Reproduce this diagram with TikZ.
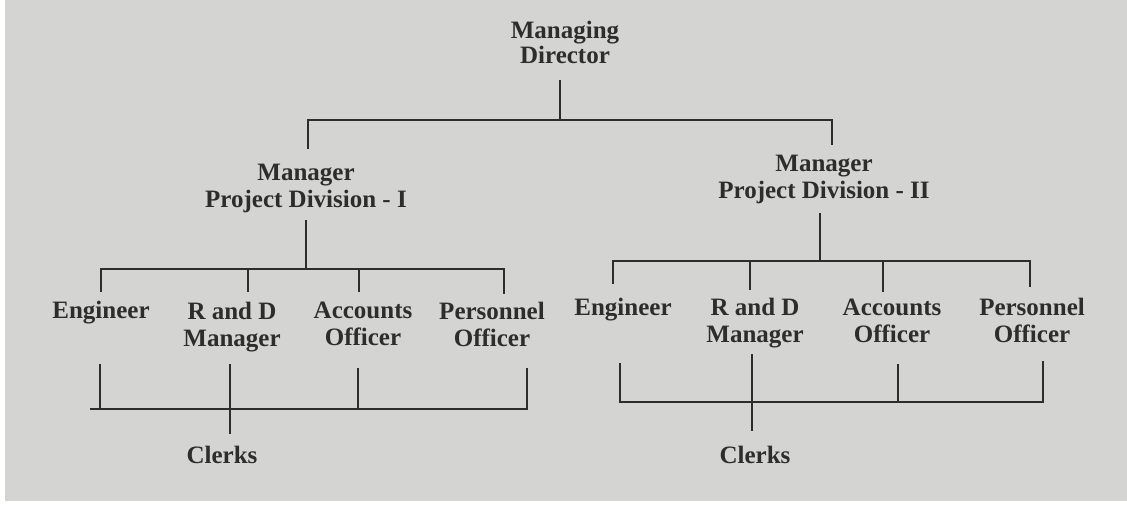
\documentclass[tikz,border=0pt]{standalone}
\usepackage{fontspec}
\setmainfont{Liberation Serif}
\usetikzlibrary{positioning}
\definecolor{paper}{RGB}{212,212,210}
\definecolor{ink}{RGB}{45,45,45}

\begin{document}
\begin{tikzpicture}[x=0.5pt, y=-0.5pt,
  post/.style={font=\fontsize{12.5}{13.5}\selectfont\bfseries, text=ink, align=center, inner sep=0pt},
  link/.style={draw=ink, line width=0.9pt}]
  \useasboundingbox (0,0) rectangle (1127,507);
  \fill[white] (0,0) rectangle (1127,507);
  \fill[paper] (5,0) rectangle (1127,501);

  % Top of the chart
  \node[post, font=\fontsize{12.5}{12.5}\selectfont\bfseries] (md) at (565,42) {Managing\\Director};
  \node[post] (div1) at (306,188) {Manager\\Project Division - I};
  \node[post] (div2) at (824,179) {Manager\\Project Division - II};

  % Staff of division I
  \node[post] (eng1) at (101,313) {Engineer};
  \node[post] (rnd1) at (232,327) {R and D\\Manager};
  \node[post] (acc1) at (363,324) {Accounts\\Officer};
  \node[post] (per1) at (492,324) {Personnel\\Officer};
  \node[post] (clk1) at (222,454.5) {Clerks};

  % Staff of division II
  \node[post] (eng2) at (623,309.5) {Engineer};
  \node[post] (rnd2) at (755,323) {R and D\\Manager};
  \node[post] (acc2) at (892,320.5) {Accounts\\Officer};
  \node[post] (per2) at (1032,320.5) {Personnel\\Officer};
  \node[post] (clk2) at (755,454.5) {Clerks};

  % Managing Director to the two divisions
  \coordinate (top-l) at (308,120);
  \coordinate (top-m) at (560,120);
  \coordinate (top-r) at (832,120);
  \draw[link, shorten <=8pt] (top-m |- md.south) -- (top-m);
  \draw[link, shorten <=7.25pt, shorten >=4.75pt] (top-l |- div1.north) -- (top-l) -- (top-r) -- (top-r |- div2.north);

  % Division I to its officers
  \coordinate (d1-bus) at (306,269);
  \coordinate (d1-a) at (101,269);
  \coordinate (d1-b) at (248,269);
  \coordinate (d1-c) at (359,269);
  \coordinate (d1-d) at (504,269);
  \draw[link, shorten <=3.8pt] (d1-bus |- div1.south) -- (d1-bus);
  \draw[link, shorten <=4.5pt, shorten >=3.5pt] (d1-a |- eng1.north) -- (d1-a) -- (d1-d) -- (d1-d |- per1.north);
  \draw[link, shorten >=5pt] (d1-b) -- (d1-b |- rnd1.north);
  \draw[link, shorten >=4.75pt] (d1-c) -- (d1-c |- acc1.north);

  % Officers of division I to clerks
  \coordinate (l1-e) at (90,409);
  \coordinate (l1-a) at (100,409);
  \coordinate (l1-b) at (230,409);
  \coordinate (l1-c) at (358,409);
  \coordinate (l1-d) at (527,409);
  \draw[link, shorten >=10.5pt] (l1-e) -- (l1-d) -- (l1-d |- per1.south);
  \draw[link, shorten >=19.5pt] (l1-a) -- (l1-a |- eng1.south);
  \draw[link, shorten >=11pt] (l1-c) -- (l1-c |- acc1.south);
  \draw[link, shorten <=6pt, shorten >=5.5pt] (l1-b |- rnd1.south) -- (l1-b |- clk1.north);

  % Division II to its officers
  \coordinate (d2-bus) at (820,261);
  \coordinate (d2-a) at (613,261);
  \coordinate (d2-b) at (750,261);
  \coordinate (d2-c) at (883,261);
  \coordinate (d2-d) at (1030,261);
  \draw[link, shorten <=4.8pt] (d2-bus |- div2.south) -- (d2-bus);
  \draw[link, shorten <=6.75pt, shorten >=5.5pt] (d2-a |- eng2.north) -- (d2-a) -- (d2-d) -- (d2-d |- per2.north);
  \draw[link, shorten >=4pt] (d2-b) -- (d2-b |- rnd2.north);
  \draw[link, shorten >=3.25pt] (d2-c) -- (d2-c |- acc2.north);

  % Officers of division II to clerks
  \coordinate (l2-a) at (620,402);
  \coordinate (l2-b) at (752,402);
  \coordinate (l2-c) at (898,402);
  \coordinate (l2-d) at (1043,402);
  \draw[link, shorten <=20.8pt, shorten >=9pt] (l2-a |- eng2.south) -- (l2-a) -- (l2-d) -- (l2-d |- per2.south);
  \draw[link, shorten >=10.5pt] (l2-c) -- (l2-c |- acc2.south);
  \draw[link, shorten <=3pt, shorten >=7pt] (l2-b |- rnd2.south) -- (l2-b |- clk2.north);
\end{tikzpicture}
\end{document}
